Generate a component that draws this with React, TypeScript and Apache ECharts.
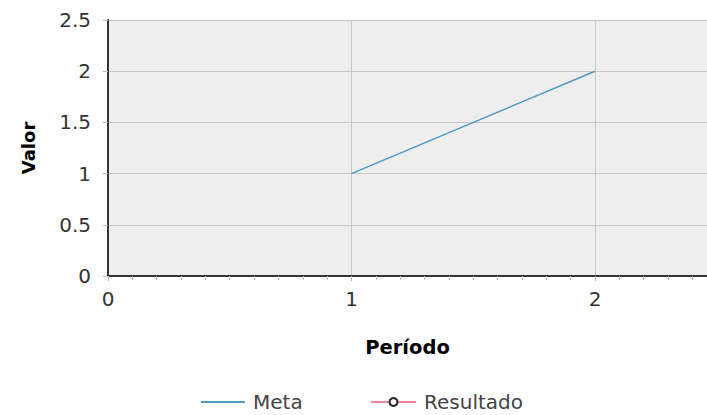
import React, { useEffect, useRef } from "react";
import * as echarts from "echarts";

const metaPoints: [number, number][] = [
  [1, 1],
  [2, 2],
];
const resultadoPoints: [number, number][] = [];
const seriesNames = ["Meta", "Resultado"];
const xMin = 0;
const xMax = 2.46;
const yMin = 0;
const yMax = 2.5;

const FONT = "DejaVu Sans";
const META_COLOR = "#4f97c0";
const RES_COLOR = "#f7829c";

export default function App() {
  const ref = useRef<HTMLDivElement>(null);
  useEffect(() => {
    if (!ref.current) return;
    const chart = echarts.init(ref.current, null, { renderer: "svg" });
    const legendText = { fontFamily: FONT, fontSize: 20, color: "#444", padding: [0, 0, 0, 3] };
    chart.setOption({
      animation: false,
      grid: { left: 108, top: 20, right: 0, bottom: 139, show: true, backgroundColor: "#eeeeee", borderWidth: 0 },
      xAxis: {
        type: "value",
        min: xMin,
        max: xMax,
        interval: 1,
        name: "Período",
        nameLocation: "middle",
        nameGap: 61,
        nameTextStyle: { fontFamily: FONT, fontSize: 19.5, fontWeight: "bold", color: "#000" },
        axisLine: { show: true, onZero: false, lineStyle: { color: "#333", width: 2 } },
        axisTick: { show: true, length: 5, lineStyle: { color: "#bbb" } },
        minorTick: { show: true, splitNumber: 10, length: 4, lineStyle: { color: "#bbb" } },
        axisLabel: { fontFamily: FONT, fontSize: 20, color: "#333", margin: 13, showMaxLabel: false },
        splitLine: { show: true, lineStyle: { color: "#c8c8c8", width: 1 } },
      },
      yAxis: {
        type: "value",
        min: yMin,
        max: yMax,
        interval: 0.5,
        name: "Valor",
        nameLocation: "middle",
        nameGap: 71,
        nameTextStyle: { fontFamily: FONT, fontSize: 18, fontWeight: "bold", color: "#000" },
        axisLine: { show: true, onZero: false, lineStyle: { color: "#333", width: 2 } },
        axisTick: { show: true, length: 5, lineStyle: { color: "#bbb" } },
        axisLabel: { fontFamily: FONT, fontSize: 20, color: "#333", margin: 17 },
        splitLine: { show: true, lineStyle: { color: "#c8c8c8", width: 1 } },
      },
      legend: [
        {
          left: 200,
          top: 392,
          padding: 0,
          itemWidth: 44,
          itemHeight: 12,
          textStyle: legendText,
          data: [{ name: seriesNames[0], itemStyle: { opacity: 0 } }],
        },
        {
          left: 370,
          top: 392,
          padding: 0,
          itemWidth: 45,
          itemHeight: 10,
          textStyle: legendText,
          data: [{ name: seriesNames[1] }],
        },
      ],
      series: [
        {
          name: seriesNames[0],
          type: "line",
          data: metaPoints,
          symbol: "none",
          lineStyle: { color: META_COLOR, width: 1.5 },
          itemStyle: { color: META_COLOR },
        },
        {
          name: seriesNames[1],
          type: "line",
          data: resultadoPoints,
          symbol: "emptyCircle",
          symbolSize: 8,
          lineStyle: { color: RES_COLOR, width: 1.5 },
          itemStyle: { color: "#222" },
        },
      ],
    });
    return () => chart.dispose();
  }, []);
  return <div ref={ref} style={{ width: 707, height: 415, position: "absolute", left: 0, top: 0 }} />;
}
